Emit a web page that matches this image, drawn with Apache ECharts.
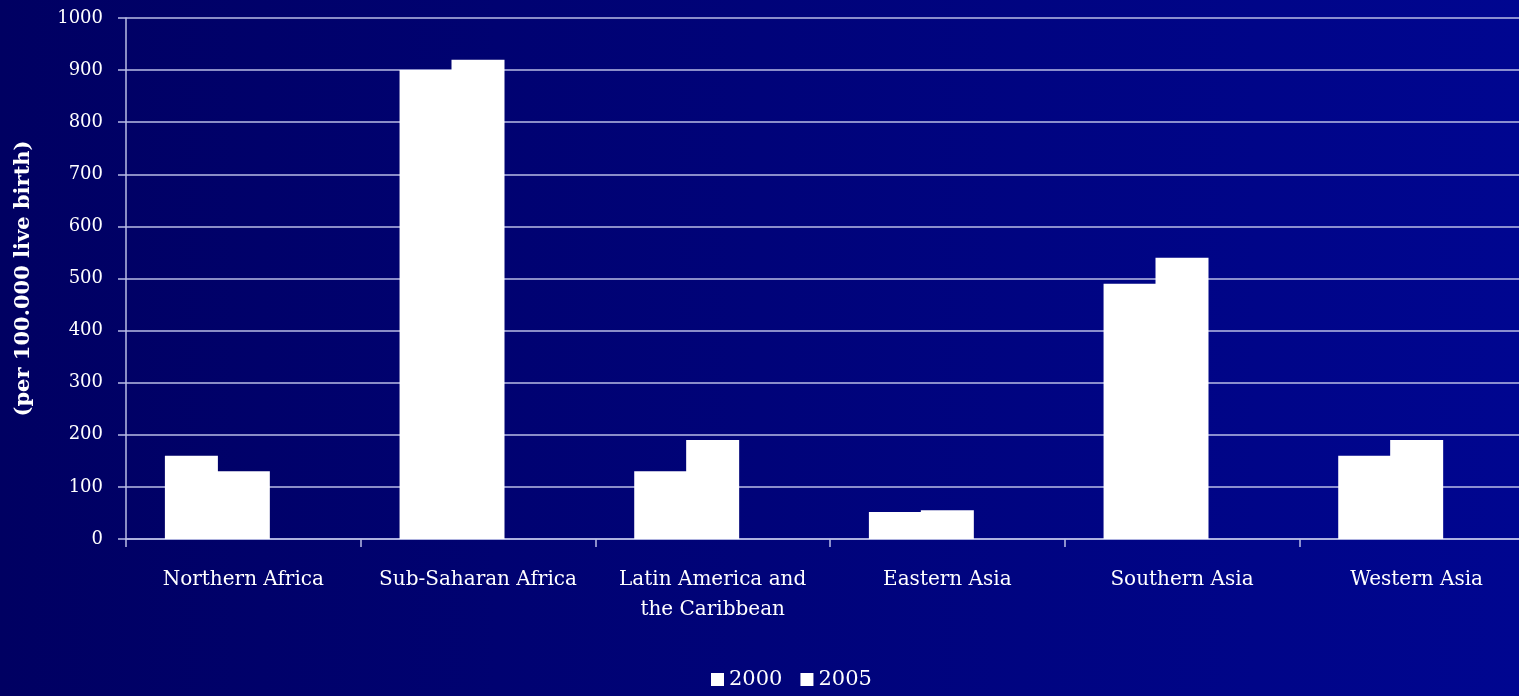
<!DOCTYPE html>
<html>
<head>
<meta charset="utf-8">
<script src="https://cdn.jsdelivr.net/npm/echarts@6/dist/echarts.min.js"></script>
<style>
  html, body { margin: 0; padding: 0; width: 100%; height: 100%; overflow: hidden; }
  #chart { width: 1519px; height: 696px; }
</style>
</head>
<body>
<div id="chart"></div>
<script>
// Maternal mortality ratio by region (per 100.000 live birth)
const regions = [
  'Northern Africa',
  'Sub-Saharan Africa',
  'Latin America and\nthe Caribbean',
  'Eastern Asia',
  'Southern Asia',
  'Western Asia'
];
const values2000 = [160, 900, 130, 52, 490, 160];
const values2005 = [130, 920, 190, 55, 540, 190];
const seriesNames = ['2000', '2005'];
const yAxisTitle = '(per 100.000 live birth)';

const FONT = '"DejaVu Serif", "Liberation Serif", serif';
const LINE = '#b9bde6';
const BAR_W = 53;

const chart = echarts.init(document.getElementById('chart'));
chart.setOption({
  animation: false,
  backgroundColor: {
    type: 'linear', x: 0, y: 0, x2: 1, y2: 0,
    colorStops: [
      { offset: 0, color: '#000062' },
      { offset: 1, color: '#000690' }
    ]
  },
  textStyle: { fontFamily: FONT, color: '#ffffff' },
  legend: {
    data: seriesNames,
    bottom: 1,
    left: 706,
    icon: 'rect',
    itemWidth: 13,
    itemHeight: 13,
    itemGap: 18,
    textStyle: { color: '#ffffff', fontFamily: FONT, fontSize: 21 }
  },
  // plot area runs past the right edge of the canvas
  grid: {
    left: 126, width: 1408, top: 18, height: 521,
    containLabel: false,
    outerBoundsMode: 'none'
  },
  xAxis: {
    type: 'category',
    data: regions,
    axisLine: { show: true, lineStyle: { color: LINE, width: 1.5 } },
    axisTick: { show: true, length: 8, alignWithLabel: false, lineStyle: { color: LINE, width: 1.5 } },
    axisLabel: {
      color: '#ffffff',
      fontFamily: FONT,
      fontSize: 20,
      margin: 26,
      lineHeight: 30,
      interval: 0
    }
  },
  yAxis: {
    type: 'value',
    min: 0,
    max: 1000,
    interval: 100,
    name: yAxisTitle,
    nameLocation: 'middle',
    nameGap: 92,
    nameRotate: 90,
    nameTextStyle: { color: '#ffffff', fontFamily: FONT, fontSize: 21, fontWeight: 'bold' },
    axisLine: { show: true, lineStyle: { color: LINE, width: 1.5 } },
    axisTick: { show: true, length: 8, inside: false, lineStyle: { color: LINE, width: 1.5 } },
    axisLabel: {
      color: '#ffffff',
      fontFamily: FONT,
      fontSize: 18,
      margin: 23,
      formatter: (v) => String(v)
    },
    splitLine: { show: true, lineStyle: { color: LINE, width: 1.5 } }
  },
  series: [
    {
      name: seriesNames[0],
      type: 'bar',
      data: values2000,
      barWidth: BAR_W,
      barGap: '-2%',
      itemStyle: { color: '#ffffff' }
    },
    {
      name: seriesNames[1],
      type: 'bar',
      data: values2005,
      barWidth: BAR_W,
      barGap: '-2%',
      itemStyle: { color: '#ffffff' }
    },
    {
      // empty third slot in each group, keeps the pair left of the category centre
      name: 'slot',
      type: 'bar',
      data: regions.map(() => null),
      barWidth: BAR_W,
      barGap: '-2%',
      silent: true,
      itemStyle: { color: 'transparent' }
    }
  ]
});
</script>
</body>
</html>
